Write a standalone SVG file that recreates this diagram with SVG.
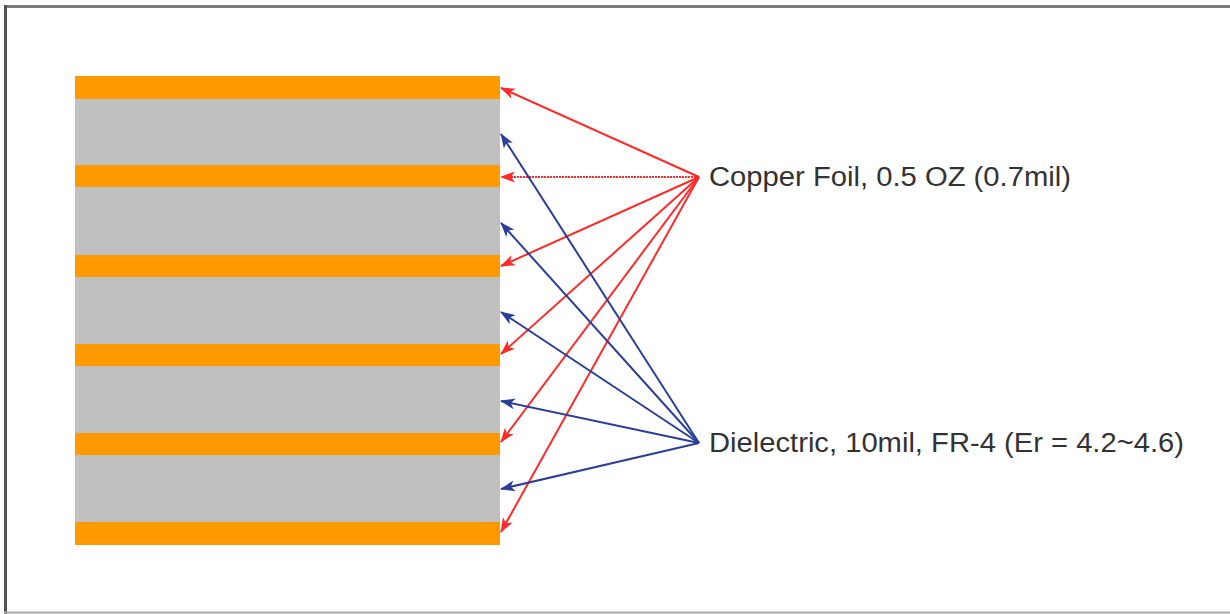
<svg xmlns="http://www.w3.org/2000/svg" width="1230" height="614" viewBox="0 0 1230 614">
<defs>
<style>
.cu{fill:#ff9900}
.fr{fill:#c0c0c0}
.r{stroke:#ff2a2a;stroke-width:2;fill:none}
.b{stroke:#2b3f98;stroke-width:2;fill:none}
.t{font-family:"Liberation Sans",Arial,sans-serif;font-size:27px;fill:#333}
</style>
<marker id="ar" viewBox="0 0 15 11" refX="14" refY="5.5" markerWidth="15" markerHeight="11" markerUnits="userSpaceOnUse" orient="auto"><path d="M0,0 L15,5.5 L0,11 L4,5.5 Z" fill="#ff2a2a"/></marker>
<marker id="ab" viewBox="0 0 15 11" refX="14" refY="5.5" markerWidth="15" markerHeight="11" markerUnits="userSpaceOnUse" orient="auto"><path d="M0,0 L15,5.5 L0,11 L4,5.5 Z" fill="#2b3f98"/></marker>
</defs>
<rect width="1230" height="614" fill="#fff"/>
<g id="frame">
<line x1="4" y1="6.5" x2="1230" y2="6.5" stroke="#7a7a7a" stroke-width="3"/>
<line x1="5.5" y1="5" x2="5.5" y2="614" stroke="#555" stroke-width="3"/>
<line x1="4" y1="612.5" x2="1230" y2="612.5" stroke="#aaa" stroke-width="2"/>
</g>
<g id="stackup">
<rect class="fr" x="75" y="76" width="425" height="469"/>
<rect id="cu1" class="cu" x="75" y="76" width="425" height="23"/>
<rect id="cu2" class="cu" x="75" y="165" width="425" height="22"/>
<rect id="cu3" class="cu" x="75" y="255" width="425" height="22"/>
<rect id="cu4" class="cu" x="75" y="344" width="425" height="22"/>
<rect id="cu5" class="cu" x="75" y="433" width="425" height="22"/>
<rect id="cu6" class="cu" x="75" y="522" width="425" height="23"/>
</g>
<g id="connectors">
<line class="r" x1="699" y1="177" x2="501" y2="88" marker-end="url(#ar)"/>
<line class="r" x1="699" y1="177" x2="501" y2="177" marker-end="url(#ar)" stroke-dasharray="2 1"/>
<line class="r" x1="699" y1="177" x2="501" y2="266" marker-end="url(#ar)"/>
<line class="r" x1="699" y1="177" x2="501" y2="354" marker-end="url(#ar)"/>
<line class="r" x1="699" y1="177" x2="501" y2="442" marker-end="url(#ar)"/>
<line class="r" x1="699" y1="177" x2="501" y2="532" marker-end="url(#ar)"/>
<line class="b" x1="699" y1="443" x2="501" y2="134" marker-end="url(#ab)"/>
<line class="b" x1="699" y1="443" x2="501" y2="223" marker-end="url(#ab)"/>
<line class="b" x1="699" y1="443" x2="501" y2="312" marker-end="url(#ab)"/>
<line class="b" x1="699" y1="443" x2="501" y2="401" marker-end="url(#ab)"/>
<line class="b" x1="699" y1="443" x2="501" y2="489" marker-end="url(#ab)"/>
</g>
<g id="label-copper"><text class="t" x="709" y="186" textLength="362" lengthAdjust="spacingAndGlyphs">Copper Foil, 0.5 OZ (0.7mil)</text></g>
<g id="label-dielectric"><text class="t" x="709" y="452" textLength="475" lengthAdjust="spacingAndGlyphs">Dielectric, 10mil, FR-4 (Er = 4.2~4.6)</text></g>
</svg>
